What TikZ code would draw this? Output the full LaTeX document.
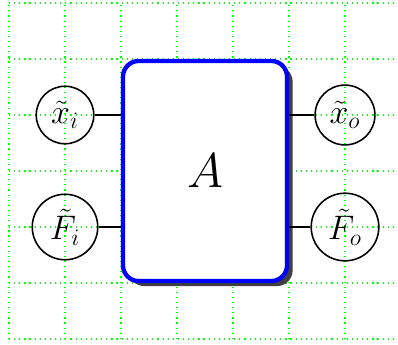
\documentclass[tikz,border=0pt]{standalone}
\usetikzlibrary{shadows}
\begin{document}
\begin{tikzpicture}[
  gridline/.style={green, dotted, line width=0.6pt},
  port/.style={draw, circle, thick, font=\LARGE},
  block/.style={draw=blue, line width=2.2pt, rounded corners=8pt,
    minimum width=2.93cm, minimum height=3.93cm, fill=white, font=\Huge,
    drop shadow={fill=black!75, opacity=1, shadow xshift=0.1cm, shadow yshift=-0.09cm}},
  wire/.style={thick}
]
\useasboundingbox (-0.1607,-0.0893) rectangle (6.946,6.0536);
\draw[gridline] (0,0) grid (6.946,6);
\node[block] (A) at (3.5,3) {$A$};
\node[port] (xi) at (1,4) {$\tilde{x}_i$};
\node[port] (Fi) at (1,2) {$\tilde{F}_i$};
\node[port] (xo) at (6,4) {$\tilde{x}_o$};
\node[port] (Fo) at (6,2) {$\tilde{F}_o$};
\draw[wire] (xi) -- (A.west |- xi);
\draw[wire] (Fi) -- (A.west |- Fi);
\draw[wire] (xo) -- (A.east |- xo);
\draw[wire] (Fo) -- (A.east |- Fo);
\end{tikzpicture}
\end{document}
